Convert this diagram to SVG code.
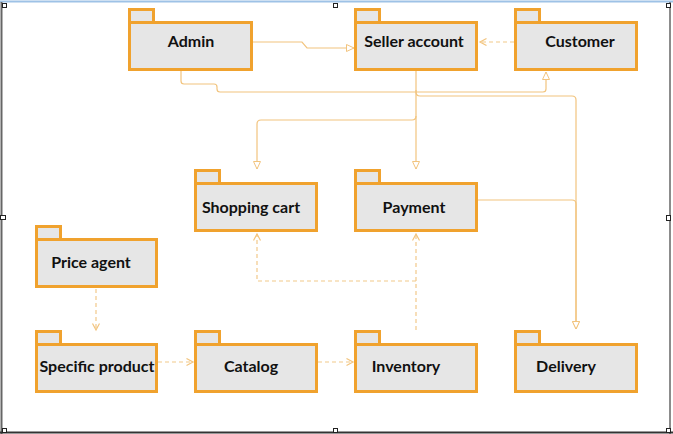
<svg xmlns="http://www.w3.org/2000/svg" width="673" height="434" viewBox="0 0 673 434">
<style>
.tab,.body{fill:#E6E6E6;stroke:#F0A22E;stroke-width:3}
.lbl{font-family:Lato,"Open Sans",sans-serif;font-weight:bold;font-size:16px;fill:#111;text-anchor:middle}
.c{fill:none;stroke:#F2C47E;stroke-width:1.2}
.d{fill:none;stroke:#F2C98A;stroke-width:1.2;stroke-dasharray:4 3}
.h{fill:#fff;stroke:#222;stroke-width:1}
</style>
<defs>
<marker id="tri" markerUnits="userSpaceOnUse" markerWidth="10" markerHeight="10" refX="8" refY="4" orient="auto">
<path d="M0.5,0.5 L8,4 L0.5,7.5 Z" fill="#fff" stroke="#F2C47E" stroke-width="1"/>
</marker>
<marker id="vee" markerUnits="userSpaceOnUse" markerWidth="10" markerHeight="10" refX="7" refY="4" orient="auto">
<path d="M0.5,0.5 L7,4 L0.5,7.5" fill="none" stroke="#F2C47E" stroke-width="1.2"/>
</marker>
</defs>
<rect width="673" height="434" fill="#fff"/>
<g id="frame">
<line x1="0" y1="1.5" x2="673" y2="1.5" stroke="#9EC2E6" stroke-width="2"/>
<line x1="1.5" y1="2" x2="1.5" y2="434" stroke="#666" stroke-width="2"/>
<line x1="670" y1="2" x2="670" y2="434" stroke="#666" stroke-width="1.5"/>
<line x1="0" y1="432.5" x2="673" y2="432.5" stroke="#333" stroke-width="2"/>
<rect class="h" x="2.5" y="3.5" width="4" height="4"/>
<rect class="h" x="333.5" y="3.5" width="4" height="4"/>
<rect class="h" x="666.5" y="3.5" width="4" height="4"/>
<rect class="h" x="0.5" y="215.5" width="5" height="4"/>
<rect class="h" x="666.5" y="215.5" width="4" height="5"/>
<rect class="h" x="2.5" y="428.5" width="4" height="4"/>
<rect class="h" x="333.5" y="428.5" width="4" height="4"/>
<rect class="h" x="666.5" y="428.5" width="4" height="4"/>
</g>
<g id="connectors">
<path class="c" d="M253,42 H302 L307,48 H354" marker-end="url(#tri)"/>
<path class="d" d="M514,42 H480" marker-end="url(#vee)"/>
<path class="c" d="M181,71 V81 Q181,84 184,84 H214 Q217,84 217,87 V89 Q217,92 220,92 H543 Q546,92 546,89 V72" marker-end="url(#tri)"/>
<path class="c" d="M416,71 V92 Q416,96 420,96 H572 Q576,96 576,100 V329" marker-end="url(#tri)"/>
<path class="c" d="M416,90 V169" marker-end="url(#tri)"/>
<path class="c" d="M416,116 Q416,120 412,120 H261 Q257,120 257,124 V169" marker-end="url(#tri)"/>
<path class="c" d="M478,200 H572 Q576,200 576,204 V329" marker-end="url(#tri)"/>
<path class="d" d="M96,289 V330" marker-end="url(#vee)"/>
<path class="d" d="M158,362 H193" marker-end="url(#vee)"/>
<path class="d" d="M318,362 H353" marker-end="url(#vee)"/>
<path class="d" d="M416,330 V234" marker-end="url(#vee)"/>
<path class="d" d="M416,281 H257 V234" marker-end="url(#vee)"/>
</g>
<g id="admin">
<rect class="tab" x="129.5" y="9.5" width="24" height="13"/>
<rect class="body" x="129.5" y="22.5" width="122" height="47"/>
<text class="lbl" x="191" y="47">Admin</text>
</g>
<g id="seller-account">
<rect class="tab" x="355.5" y="9.5" width="24" height="13"/>
<rect class="body" x="355.5" y="22.5" width="121" height="47"/>
<text class="lbl" x="414" y="47">Seller account</text>
</g>
<g id="customer">
<rect class="tab" x="515.5" y="9.5" width="24" height="13"/>
<rect class="body" x="515.5" y="22.5" width="121" height="47"/>
<text class="lbl" x="580" y="47">Customer</text>
</g>
<g id="shopping-cart">
<rect class="tab" x="195.5" y="170.5" width="24" height="13"/>
<rect class="body" x="195.5" y="183.5" width="121" height="47"/>
<text class="lbl" x="251" y="213">Shopping cart</text>
</g>
<g id="payment">
<rect class="tab" x="355.5" y="170.5" width="24" height="13"/>
<rect class="body" x="355.5" y="183.5" width="121" height="47"/>
<text class="lbl" x="414" y="213">Payment</text>
</g>
<g id="price-agent">
<rect class="tab" x="36.5" y="226.5" width="24" height="13"/>
<rect class="body" x="36.5" y="239.5" width="120" height="47"/>
<text class="lbl" x="91" y="268">Price agent</text>
</g>
<g id="specific-product">
<rect class="tab" x="36.5" y="331.5" width="24" height="13"/>
<rect class="body" x="36.5" y="344.5" width="120" height="47"/>
<text class="lbl" x="97" y="372">Specific product</text>
</g>
<g id="catalog">
<rect class="tab" x="195.5" y="331.5" width="24" height="13"/>
<rect class="body" x="195.5" y="344.5" width="121" height="47"/>
<text class="lbl" x="251" y="372">Catalog</text>
</g>
<g id="inventory">
<rect class="tab" x="355.5" y="331.5" width="24" height="13"/>
<rect class="body" x="355.5" y="344.5" width="121" height="47"/>
<text class="lbl" x="406" y="372">Inventory</text>
</g>
<g id="delivery">
<rect class="tab" x="515.5" y="331.5" width="24" height="13"/>
<rect class="body" x="515.5" y="344.5" width="121" height="47"/>
<text class="lbl" x="566" y="372">Delivery</text>
</g>
</svg>
